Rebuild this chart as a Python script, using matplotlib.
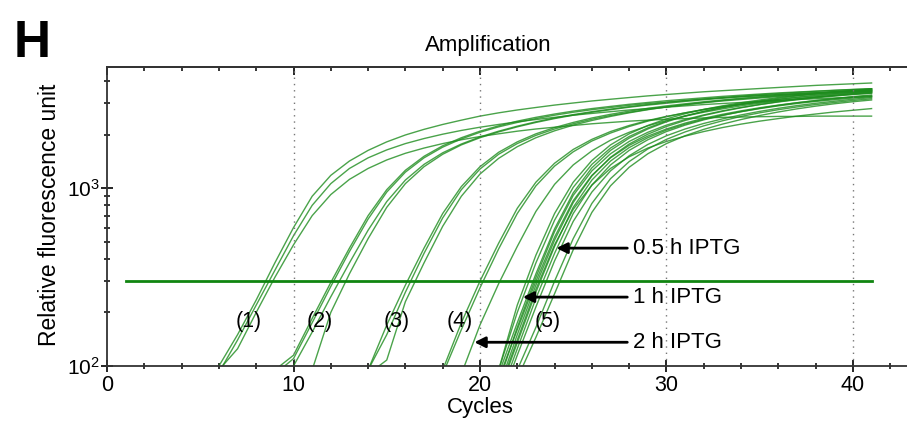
import numpy as np
import matplotlib
matplotlib.use('Agg')
from matplotlib import pyplot as plt
from matplotlib.ticker import MultipleLocator, LogLocator, NullFormatter

plt.rcParams['font.family'] = ['Liberation Sans', 'DejaVu Sans']

# amplification curves: first cycle of each curve and its values (one per cycle up to 41)
g1_start = [6, 6, 6]
g1_vals = [
    [100,150,235,380,600,900,1180,1420,1630,1820,1990,2140,2280,2410,2540,2650,2750,2840,2930,3010,
     3090,3160,3230,3300,3360,3420,3480,3530,3580,3630,3680,3730,3780,3820,3860,3900],
    [95,125,200,315,480,700,920,1120,1290,1440,1570,1680,1780,1870,1950,2020,2090,2150,2200,2250,
     2300,2340,2380,2410,2440,2460,2480,2500,2510,2520,2530,2530,2540,2540,2540,2540],
    [92,140,220,345,540,800,1060,1290,1480,1640,1780,1900,2010,2110,2200,2280,2360,2430,2500,2570,
     2630,2690,2750,2800,2850,2900,2950,2990,3030,3070,3110,3150,3180,3210,3240,3270],
]
g2_start = [9, 9, 10, 11]
g2_vals = [
    [95,115,185,295,460,700,980,1260,1510,1730,1920,2090,2240,2380,2500,2610,2710,2800,2880,2960,
     3030,3100,3160,3220,3280,3330,3380,3430,3470,3510,3550,3590,3620],
    [90,110,175,280,440,670,950,1230,1480,1700,1890,2060,2210,2340,2460,2570,2670,2760,2840,2920,
     2990,3050,3110,3170,3220,3270,3310,3350,3390,3430,3460,3490,3520],
    [100,155,245,380,580,840,1110,1360,1580,1770,1940,2090,2230,2360,2480,2590,2690,2780,2870,2950,
     3030,3100,3170,3230,3290,3350,3400,3450,3500,3540,3580,3620],
    [95,200,330,520,780,1060,1320,1550,1750,1920,2070,2210,2340,2460,2570,2670,2760,2850,2930,3000,
     3070,3140,3200,3260,3310,3360,3410,3450,3490,3530,3570],
]
g3_start = [14, 14, 14]
g3_vals = [
    [95,170,285,460,720,1020,1320,1590,1820,2020,2190,2340,2480,2600,2710,2810,2900,2980,3060,3130,
     3200,3260,3320,3370,3420,3470,3510,3550],
    [95,150,260,430,680,980,1280,1550,1780,1980,2150,2300,2440,2560,2670,2770,2860,2940,3020,3090,
     3150,3210,3270,3320,3370,3410,3450,3490],
    [90,108,230,380,610,900,1200,1470,1710,1920,2100,2260,2400,2530,2650,2760,2860,2950,3030,3110,
     3180,3240,3300,3360,3410,3460,3500,3540],
]
g4_start = [18, 18, 19]
g4_vals = [
    [95,175,300,490,770,1080,1380,1650,1880,2080,2250,2400,2530,2650,2760,2860,2950,3030,3110,3180,
     3250,3310,3370,3420],
    [90,160,275,455,720,1030,1330,1600,1840,2040,2220,2380,2520,2650,2770,2880,2980,3070,3150,3230,
     3300,3370,3430,3490],
    [90,170,290,470,740,1050,1350,1620,1860,2060,2240,2400,2540,2670,2790,2900,3000,3090,3170,3250,
     3320,3390,3450],
]
g5_start = [21, 21, 21, 21, 21, 21, 21, 21, 21, 21, 22, 22]
g5_vals = [
    [95,220,420,720,1080,1430,1750,2020,2250,2450,2620,2770,2900,3020,3130,3230,3320,3400,3470,3540,3600],
    [95,200,380,660,1010,1360,1680,1950,2180,2380,2550,2700,2830,2950,3060,3160,3250,3330,3400,3470,3530],
    [90,175,330,590,940,1300,1630,1910,2150,2360,2540,2700,2840,2970,3090,3200,3300,3390,3470,3540,3610],
    [80,165,315,570,910,1250,1560,1830,2060,2260,2430,2580,2720,2840,2950,3050,3140,3220,3290,3360,3420],
    [85,160,300,530,850,1180,1480,1740,1960,2150,2320,2470,2600,2720,2830,2930,3020,3100,3180,3250,3310],
    [75,150,285,510,830,1170,1490,1770,2010,2220,2400,2560,2700,2830,2950,3060,3160,3250,3330,3400,3470],
    [70,135,260,470,780,1110,1420,1690,1920,2120,2290,2440,2570,2690,2800,2900,2990,3070,3140,3210,3270],
    [65,125,240,430,720,1040,1350,1630,1870,2080,2260,2420,2560,2690,2810,2920,3020,3110,3190,3270,3340],
    [60,115,215,390,650,950,1250,1520,1760,1970,2150,2310,2450,2580,2700,2810,2910,3000,3080,3160,3230],
    [72,140,270,480,760,1040,1290,1500,1680,1830,1960,2080,2190,2290,2380,2460,2540,2610,2680,2740,2800],
    [95,165,300,520,820,1130,1410,1660,1880,2070,2240,2390,2530,2650,2760,2860,2950,3030,3110,3180],
    [85,145,255,450,730,1030,1310,1560,1780,1970,2140,2290,2430,2560,2680,2790,2890,2980,3060,3130],
]

threshold = 300
threshold_span = [1, 41]

group_labels = ['(1)', '(2)', '(3)', '(4)', '(5)']
group_label_x = [7.6, 11.4, 15.55, 18.9, 23.65]
group_label_y = 177

arrow_texts = ['0.5 h IPTG', '1 h IPTG', '2 h IPTG']
arrow_head_x = [24.1, 22.3, 19.7]
arrow_tail_x = [27.9, 27.9, 27.9]
arrow_y = [460, 244, 136]

fig = plt.figure(figsize=(9.07, 4.21), dpi=100)
ax = fig.add_axes([0.118, 0.1306, 0.882, 0.710])

green = '#1d8c1d'
for starts, vals in [(g1_start, g1_vals), (g2_start, g2_vals), (g3_start, g3_vals),
                     (g4_start, g4_vals), (g5_start, g5_vals)]:
    for s, v in zip(starts, vals):
        x = np.arange(s, s + len(v))
        ax.plot(x, v, color=green, lw=1.0, alpha=0.8)

ax.plot(threshold_span, [threshold, threshold], color='#108510', lw=2)

ax.set_yscale('log')
ax.set_xlim(0, 42.9)
ax.set_ylim(100, 4790)

for xv in (10, 20, 30, 40):
    ax.axvline(xv, color='#777777', ls=(0, (1, 3.5)), lw=1)

for lab, lx in zip(group_labels, group_label_x):
    ax.text(lx, group_label_y, lab, fontsize=15.5, ha='center', va='center')

for t, hx, tx, yy in zip(arrow_texts, arrow_head_x, arrow_tail_x, arrow_y):
    ax.annotate('', xy=(hx, yy), xytext=(tx, yy),
                arrowprops=dict(arrowstyle='-|>', color='black', lw=2, mutation_scale=16,
                                shrinkA=0, shrinkB=0))
    ax.text(tx + 0.3, yy, t, fontsize=16, ha='left', va='center')

ax.xaxis.set_major_locator(MultipleLocator(10))
ax.xaxis.set_minor_locator(MultipleLocator(2))
ax.yaxis.set_major_locator(LogLocator(base=10))
ax.yaxis.set_minor_locator(LogLocator(base=10, subs=np.arange(2, 10)))
ax.yaxis.set_minor_formatter(NullFormatter())

ax.tick_params(axis='x', which='major', direction='inout', length=9, width=1.2,
               labelsize=15.5, pad=2)
ax.tick_params(axis='x', which='minor', direction='inout', length=5, width=1.1)
ax.tick_params(axis='y', which='major', direction='inout', length=9, width=1.2, labelsize=15, pad=1)
ax.tick_params(axis='y', which='minor', direction='inout', length=5, width=1.1)

# top ticks point inward only
top = ax.secondary_xaxis('top')
top.xaxis.set_major_locator(MultipleLocator(10))
top.xaxis.set_minor_locator(MultipleLocator(2))
top.tick_params(which='major', direction='in', length=6, width=1.2, labeltop=False)
top.tick_params(which='minor', direction='in', length=3, width=1.1)
top.spines['top'].set_linewidth(1.3)
top.spines['top'].set_color('#333333')

ax.spines['right'].set_visible(False)
for sp in ('left', 'bottom', 'top'):
    ax.spines[sp].set_linewidth(1.3)
    ax.spines[sp].set_color('#333333')

ax.set_xlabel('Cycles', fontsize=16)
ax.xaxis.set_label_coords(0.466, -0.105)
ax.set_ylabel('Relative fluorescence unit', fontsize=16.5)
ax.yaxis.set_label_coords(-0.058, 0.505)

fig.text(488 / 907, 1 - 45 / 421, 'Amplification', fontsize=16, ha='center', va='center')
fig.text(0.015, 0.955, 'H', fontsize=37, fontweight='bold', ha='left', va='top')

fig.savefig('out.png', dpi=100)
